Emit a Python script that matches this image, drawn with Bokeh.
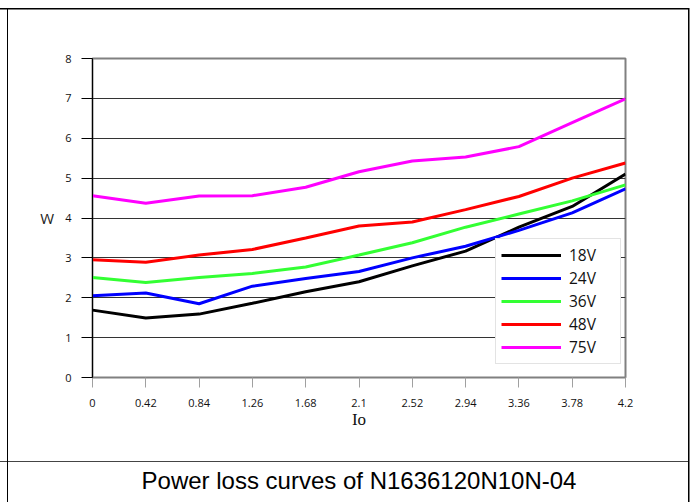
from bokeh.plotting import figure
from bokeh.models import FixedTicker, Legend, LegendItem, Range1d, LinearAxis
from bokeh.embed import file_html
from bokeh.resources import INLINE

# ---- data ----
io_values = [0, 0.42, 0.84, 1.26, 1.68, 2.1, 2.52, 2.94, 3.36, 3.78, 4.2]
io_labels = ["0", "0.42", "0.84", "1.26", "1.68", "2.1", "2.52", "2.94", "3.36", "3.78", "4.2"]
w_ticks = [0, 1, 2, 3, 4, 5, 6, 7, 8]

loss_18v = [1.69, 1.49, 1.59, 1.86, 2.15, 2.40, 2.80, 3.17, 3.77, 4.29, 5.10]
loss_24v = [2.05, 2.12, 1.85, 2.29, 2.48, 2.66, 3.00, 3.29, 3.69, 4.13, 4.73]
loss_36v = [2.51, 2.38, 2.51, 2.61, 2.77, 3.07, 3.38, 3.77, 4.10, 4.43, 4.83]
loss_48v = [2.95, 2.89, 3.07, 3.21, 3.50, 3.80, 3.90, 4.21, 4.54, 5.00, 5.38]
loss_75v = [4.56, 4.37, 4.55, 4.56, 4.77, 5.16, 5.43, 5.53, 5.79, 6.39, 6.99]

series_names = ["18V", "24V", "36V", "48V", "75V"]
series_values = [loss_18v, loss_24v, loss_36v, loss_48v, loss_75v]
series_colors = ["#000000", "#0000ff", "#33ff33", "#ff0000", "#ff00ff"]

caption = "Power loss curves of N1636120N10N-04"

# ---- figure ----
p = figure(width=695, height=502, output_backend="svg", toolbar_location=None,
           x_range=Range1d(0, 4.2), y_range=Range1d(0, 8),
           min_border_left=92, min_border_right=70, min_border_top=58, min_border_bottom=125)
p.background_fill_color = "white"
p.border_fill_color = None
p.outline_line_color = "#808080"
p.outline_line_width = 2

# table-like outer frame and divider line, drawn as CSS background of the figure element
p.styles = {
    "background-color": "white",
    "background-image": ", ".join(["linear-gradient(#000000, #000000)"] * 3
                                  + ["linear-gradient(#444444, #444444)"]),
    "background-position": "0px 7.5px, 7px 8px, 687.5px 8px, 0px 461px",
    "background-size": "689px 1.5px, 1.3px 100%, 1.5px 100%, 689px 1.2px",
    "background-repeat": "no-repeat",
}

# x axis
xa = p.xaxis[0]
xa.ticker = FixedTicker(ticks=io_values)
xa.major_label_overrides = {v: s for v, s in zip(io_values, io_labels)}
xa.axis_line_color = "#808080"
xa.axis_line_width = 1
xa.major_tick_line_color = "#a0a0a0"
xa.major_tick_in = 0
xa.major_tick_out = 10
xa.minor_tick_line_color = None
xa.major_label_standoff = 11
xa.major_label_text_font = "Open Sans"
xa.major_label_text_font_size = "11px"
xa.major_label_text_color = "#111111"
xa.axis_label = "Io"
xa.axis_label_text_font = "Liberation Serif"
xa.axis_label_text_font_size = "17px"
xa.axis_label_text_font_style = "normal"
xa.axis_label_text_color = "#111111"
xa.axis_label_standoff = 0

# y axis
ya = p.yaxis[0]
ya.ticker = FixedTicker(ticks=w_ticks)
ya.axis_line_color = "black"
ya.axis_line_width = 1
ya.major_tick_line_color = "black"
ya.major_tick_in = 0
ya.major_tick_out = 11
ya.minor_tick_line_color = None
ya.major_label_standoff = 10
ya.major_label_text_font = "Open Sans"
ya.major_label_text_font_size = "11px"
ya.major_label_text_color = "#111111"
ya.axis_label = "W"
ya.axis_label_orientation = "horizontal"
ya.axis_label_text_font = "Open Sans"
ya.axis_label_text_font_size = "15px"
ya.axis_label_text_font_style = "normal"
ya.axis_label_text_color = "#222222"
ya.axis_label_standoff = 8

p.xgrid.grid_line_color = None
p.ygrid.ticker = FixedTicker(ticks=w_ticks)
p.ygrid.grid_line_color = "#333333"
p.ygrid.grid_line_width = 1

# series
items = []
for name, vals, col in zip(series_names, series_values, series_colors):
    r = p.line(io_values, vals, line_color=col, line_width=3)
    items.append(LegendItem(label=name, renderers=[r]))

legend = Legend(items=items, location=(403, 13), orientation="vertical",
                glyph_width=60, glyph_height=20, label_height=20, label_width=46,
                label_standoff=8, padding=5, spacing=1, margin=0,
                label_text_font="Open Sans", label_text_font_size="15.5px",
                label_text_color="#111111",
                border_line_color="#c8c8c8", border_line_width=1,
                background_fill_color="white", background_fill_alpha=1.0)
p.add_layout(legend)

# caption row below the chart: a tick-less extra axis whose label is the caption
cap_axis = LinearAxis(ticker=FixedTicker(ticks=[]), axis_line_color=None,
                      major_tick_line_color=None, minor_tick_line_color=None,
                      major_tick_in=0, major_tick_out=0, minor_tick_in=0, minor_tick_out=0,
                      major_label_standoff=0, major_label_text_color=None,
                      axis_label=caption, axis_label_standoff=35,
                      axis_label_text_font="Liberation Sans", axis_label_text_font_size="24px",
                      axis_label_text_font_style="normal", axis_label_text_color="black")
p.add_layout(cap_axis, "below")

open("out.html", "w").write(file_html(p, INLINE))
